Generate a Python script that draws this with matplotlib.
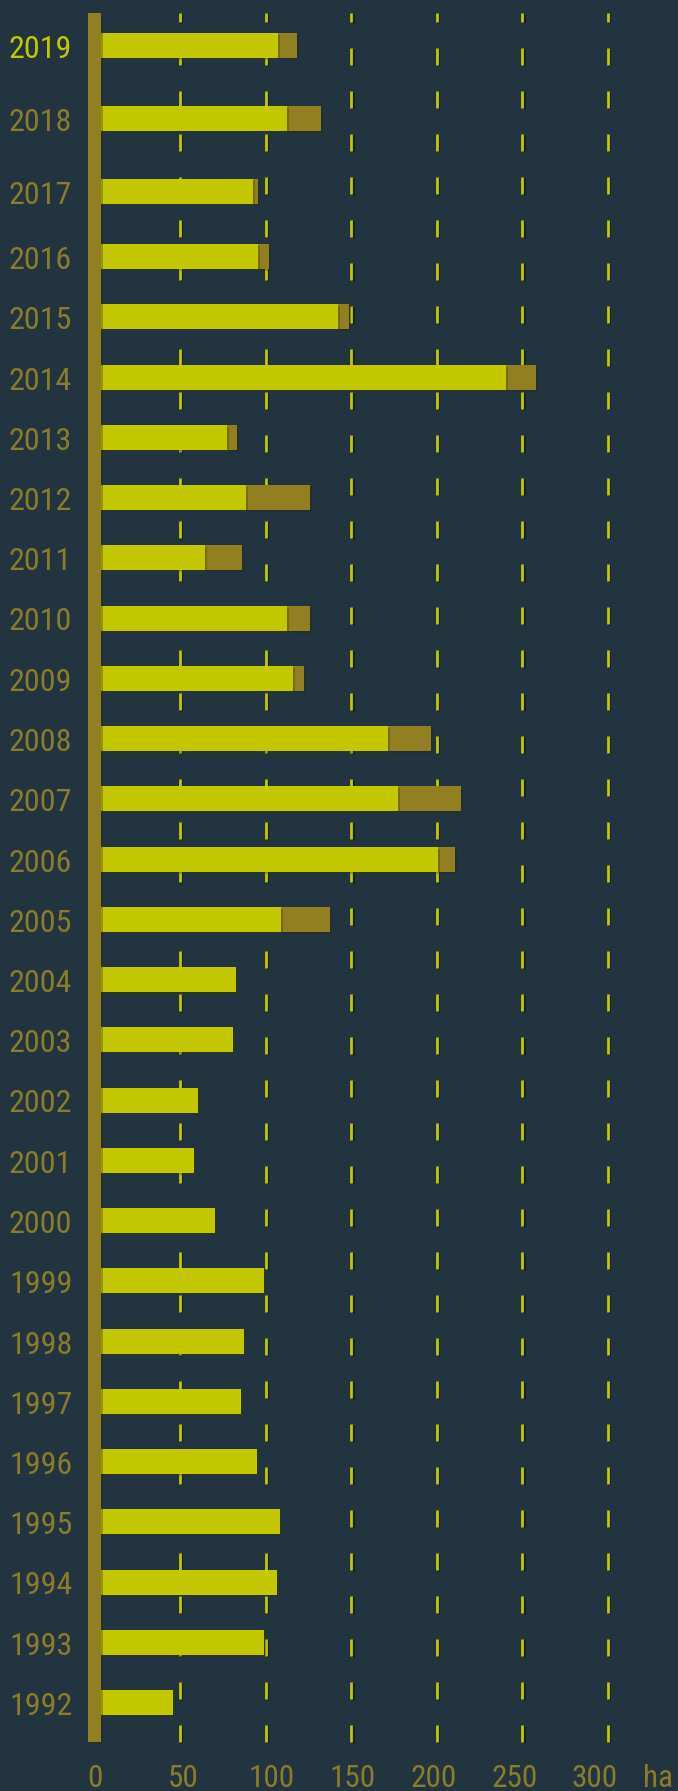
import matplotlib
matplotlib.use("Agg")
import matplotlib.pyplot as plt
import matplotlib.transforms as mtransforms
import matplotlib.patheffects as pe

# data
years = [2019, 2018, 2017, 2016, 2015, 2014, 2013, 2012, 2011, 2010,
         2009, 2008, 2007, 2006, 2005, 2004, 2003, 2002, 2001, 2000,
         1999, 1998, 1997, 1996, 1995, 1994, 1993, 1992]
main = [107.2, 112.5, 92.8, 95.7, 142.3, 240.5, 77.3, 88.5, 64.4, 112.5,
        116.0, 171.5, 177.4, 200.8, 109.0, 82.7, 81.0, 60.5, 58.2, 70.4,
        99.1, 87.4, 85.6, 95.0, 108.4, 106.7, 99.1, 45.9]
extra = [11.1, 19.8, 2.7, 6.2, 6.3, 17.7, 5.8, 37.4, 21.8, 13.5,
         6.5, 25.2, 36.8, 9.9, 28.6, 0, 0, 0, 0, 0,
         0, 0, 0, 0, 0, 0, 0, 0]
grid_values = [50, 100, 150, 200, 250, 300]
tick_labels = ["0", "50", "100", "150", "200", "250", "300", "ha"]

BG = "#213440"
YELLOW = "#c4c800"
OLIVE = "#917f22"
LABEL = "#8c7c2a"

plt.rcParams["lines.scale_dashes"] = False
plt.rcParams["font.family"] = ["Roboto Condensed", "Liberation Sans Narrow", "DejaVu Sans"]
plt.rcParams["font.stretch"] = "condensed"

W, H, DPI = 678, 1791, 100
fig = plt.figure(figsize=(W / DPI, H / DPI), dpi=DPI, facecolor=BG)
ax = fig.add_axes([0, 0, 1, 1])
ax.set_facecolor(BG)
ax.axis("off")

# pixel -> data mapping
x0_px, px_per_unit = 94.43, 1.7113
row_px, bottom_row_px = 60.25, 1702.5
ax.set_xlim(-x0_px / px_per_unit, (W - x0_px) / px_per_unit)
ax.set_ylim((bottom_row_px - H) / row_px, bottom_row_px / row_px)

# row positions (bottom row = 0), the newest rows are spaced wider
gaps = [1.212, 1.212, 1.079] + [1.0] * (len(years) - 4)
pos = [0.0] * len(years)
for i in range(len(years) - 2, -1, -1):
    pos[i] = pos[i + 1] + gaps[i]

grid_top = (bottom_row_px - 13) / row_px
grid_bottom = (bottom_row_px - 1742) / row_px

# dashed grid
for v in grid_values:
    ax.plot([v, v], [grid_top, grid_bottom], color=YELLOW, lw=2.0,
            linestyle=(5.76, (12.24, 18.72)), dash_capstyle="butt", zorder=1,
            path_effects=[pe.SimpleLineShadow(offset=(1, -1), alpha=0.35), pe.Normal()])

# bars
bh = 25 / row_px
shadow = [pe.SimplePatchShadow(offset=(1.5, -1.5), alpha=0.3), pe.Normal()]
ax.barh(pos, main, height=bh, color=YELLOW, zorder=3, path_effects=shadow)
ax.barh(pos, extra, left=main, height=bh, color=OLIVE, zorder=2, path_effects=shadow)

# vertical band at zero
ax.bar(0, grid_top - grid_bottom, bottom=grid_bottom, width=12.4 / px_per_unit,
       color=OLIVE, zorder=4, path_effects=shadow)

# year labels
tr = mtransforms.blended_transform_factory(ax.transAxes, ax.transData)
tr = mtransforms.offset_copy(tr, fig=fig, y=-12.5 * 72 / DPI, units="points")
for i, (yr, p) in enumerate(zip(years, pos)):
    ax.text(9 / W, p, str(yr), transform=tr, ha="left", va="baseline",
            fontsize=23, color=YELLOW if i == 0 else LABEL)

# bottom axis labels
for k, lab in enumerate(tick_labels):
    x_px = 87.5 + 80.7 * k if lab != "ha" else 643
    fig.text(x_px / W, 1 - 1787 / H, lab, ha="left", va="baseline",
             fontsize=22.5, color=LABEL)

fig.savefig("out.png", dpi=DPI, facecolor=BG)
